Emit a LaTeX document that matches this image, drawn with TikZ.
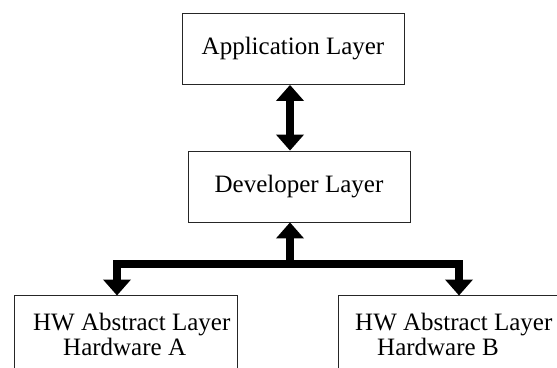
\documentclass[tikz,border=0pt]{standalone}
\usepackage{fontspec}
\setmainfont{Liberation Serif}
\usetikzlibrary{arrows.meta}

\tikzset{
  layerbox/.style={draw=black!85, line width=0.8pt, rectangle, inner sep=0pt,
    font=\fontsize{25}{25}\selectfont},
  labeltext/.style={inner sep=0pt, anchor=base west,
    font=\fontsize{25}{25}\selectfont},
  flow/.style={line width=7.5pt, line join=miter, black},
  tip/.tip={Triangle[width=27pt, length=16pt]}
}

\begin{document}
\begin{tikzpicture}[x=1pt, y=-1pt]
  \useasboundingbox (0,0) rectangle (557,367);
  \clip (0,0) rectangle (557,367);

  % layer boxes
  \node[layerbox, minimum width=222pt, minimum height=71pt] (app) at (293,49) {Application Layer};
  \node[layerbox, minimum width=222pt, minimum height=71pt] (dev) at (299,186.5) {Developer Layer};
  \node[layerbox, minimum width=223pt, minimum height=100pt, anchor=north] (hwa) at (125.5,294.5) {};
  \node[layerbox, minimum width=222pt, minimum height=100pt, anchor=north] (hwb) at (449,294.5) {};

  % hardware layer captions
  \node[labeltext] (hwaone) at (33,330) {HW Abstract Layer};
  \node[labeltext] (hwatwo) at (63,355) {Hardware A};
  \node[labeltext] (hwbone) at (355,330) {HW Abstract Layer};
  \node[labeltext] (hwbtwo) at (377,355) {Hardware B};

  % application <-> developer
  \draw[flow, tip-tip] ([xshift=-3pt]app.south) -- ([xshift=-9pt]dev.north);

  % developer <-> hardware fork
  \coordinate (fork) at (290,264);
  \draw[flow, -tip] (fork) -- ([xshift=-9pt]dev.south);
  \draw[flow, -tip] (fork) -| ([xshift=-8.5pt, yshift=-1pt]hwa.north);
  \draw[flow, -tip] (fork) -| ([xshift=10pt, yshift=-1pt]hwb.north);
\end{tikzpicture}
\end{document}
